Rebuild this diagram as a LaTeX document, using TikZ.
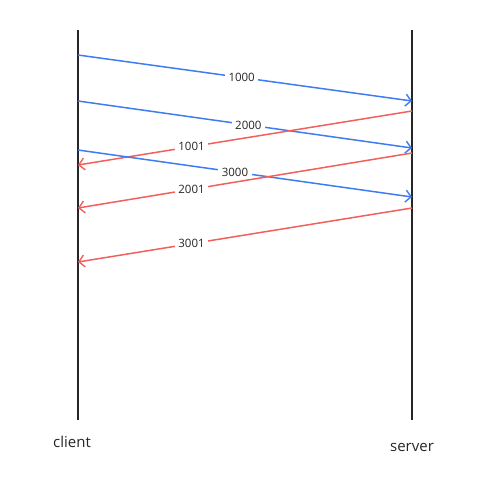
\documentclass[tikz,border=0pt]{standalone}
\usepackage{fontspec}
\setmainfont{Open Sans}
\usetikzlibrary{arrows.meta}

\definecolor{segblue}{HTML}{3F7CF2}
\definecolor{ackred}{HTML}{F2605C}

\tikzset{
  host/.style={line width=2pt, black!85},
  seg/.style={line width=1.5pt, segblue, -{Straight Barb[length=5.5pt,width=12pt,line width=1.4pt]}},
  ack/.style={line width=1.5pt, ackred, -{Straight Barb[length=5.5pt,width=12pt,line width=1.4pt]}},
  num/.style={fill=white, inner sep=3.5pt, font=\fontsize{11.5}{13}\selectfont, text=black!85},
  hostname/.style={font=\fontsize{15}{17}\selectfont, text=black!85}
}

\begin{document}
\begin{tikzpicture}[x=1pt, y=-1pt]
    \useasboundingbox (0,0) rectangle (477,487);

    \coordinate (ClientTop) at (78,30);
    \coordinate (ClientBot) at (78,420);
    \coordinate (ServerTop) at (412,30);
    \coordinate (ServerBot) at (412,420);
    \draw [host] (ClientTop) -- (ClientBot);% client time line
    \draw [host] (ServerTop) -- (ServerBot);% server time line
    \node [hostname] (client) at (72,442) {client};
    \node [hostname] (server) at (412,447) {server};

    % segments sent by the client
    \coordinate (s1) at (78,55);   \coordinate (r1) at (412,101);
    \coordinate (s2) at (78,101);  \coordinate (r2) at (412,148);
    \coordinate (s3) at (78,150);  \coordinate (r3) at (412,197);
    % acks sent back by the server
    \coordinate (a1) at (412,111); \coordinate (b1) at (78,165);
    \coordinate (a2) at (412,153); \coordinate (b2) at (78,208);
    \coordinate (a3) at (412,208); \coordinate (b3) at (78,262);

    \draw [seg] (s1) -- (r1) node [num, pos=0.49] (n1000) {1000};
    \draw [seg] (s2) -- (r2) node [num, pos=0.51] (n2000) {2000};
    \draw [ack] (a1) -- (b1) node [num, pos=0.66] (n1001) {1001};
    \draw [seg] (s3) -- (r3) node [num, pos=0.47] (n3000) {3000};
    \draw [ack] (a2) -- (b2) node [num, pos=0.66] (n2001) {2001};
    \draw [ack] (a3) -- (b3) node [num, pos=0.66] (n3001) {3001};
\end{tikzpicture}
\end{document}
